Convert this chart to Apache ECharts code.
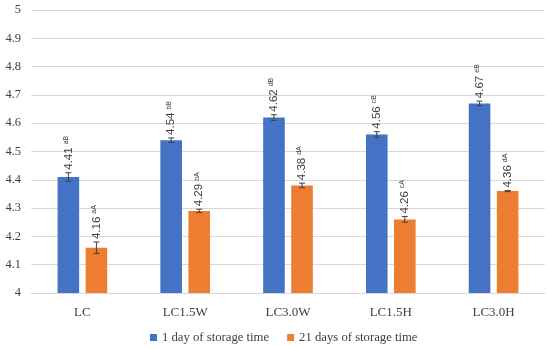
<!DOCTYPE html>
<html><head><meta charset="utf-8">
<script src="https://cdn.jsdelivr.net/npm/echarts@6/dist/echarts.min.js"></script>
<style>html,body{margin:0;padding:0;background:#fff}#c{width:550px;height:349px}</style>
</head><body><div id="c"></div>
<script>
var categories = ['LC', 'LC1.5W', 'LC3.0W', 'LC1.5H', 'LC3.0H'];
var day1 = [4.41, 4.54, 4.62, 4.56, 4.67];
var day21 = [4.16, 4.29, 4.38, 4.26, 4.36];
var day1Err = [0.015, 0.008, 0.01, 0.01, 0.008];
var day21Err = [0.02, 0.006, 0.008, 0.01, 0.002];
var day1Letters = ['aB', 'bB', 'dB', 'cB', 'eB'];
var day21Letters = ['aA', 'bA', 'dA', 'cA', 'dA'];
var seriesNames = ['1 day of storage time', '21 days of storage time'];
var colors = ['#4472C4', '#ED7D31'];

var BW = 0.21, GAP = 0.3;
var LBL_FONT = '11.5px "Liberation Sans", Arial, sans-serif';
var SUP_FONT = '7px "Liberation Sans", Arial, sans-serif';
var mctx = document.createElement('canvas').getContext('2d');
function textW(t, f) { mctx.font = f; return mctx.measureText(t).width; }

function makeCustom(vals, errs, letters, sign, name) {
  return {
    type: 'custom', name: name + ' err', silent: true, z: 5,
    data: vals.map(function (v, i) { return [i, v, errs[i]]; }),
    renderItem: function (params, api) {
      var i = api.value(0), v = api.value(1), e = api.value(2);
      var bw = api.size([1, 0])[0];
      var off = sign * (BW + BW * GAP) / 2 * bw;
      var c = api.coord([i, v]);
      var x = c[0] + off;
      var yt = api.coord([i, v + e])[1];
      var yb = api.coord([i, v - e])[1];
      var cap = 3;
      var st = { stroke: '#404040', lineWidth: 1 };
      var txt = vals[params.dataIndex].toFixed(2);
      var w = textW(txt, LBL_FONT);
      var y0 = yt - 3;
      return {
        type: 'group',
        children: [
          { type: 'line', shape: { x1: x, y1: yt, x2: x, y2: yb }, style: st },
          { type: 'line', shape: { x1: x - cap, y1: yt, x2: x + cap, y2: yt }, style: st },
          { type: 'line', shape: { x1: x - cap, y1: yb, x2: x + cap, y2: yb }, style: st },
          {
            type: 'text', x: x, y: y0, rotation: Math.PI / 2,
            style: { text: txt, font: LBL_FONT, fill: '#404040', align: 'left', verticalAlign: 'middle' }
          },
          {
            type: 'text', x: x - 2.5, y: y0 - w - 3, rotation: Math.PI / 2,
            style: { text: letters[params.dataIndex], font: SUP_FONT, fill: '#404040', align: 'left', verticalAlign: 'middle' }
          }
        ]
      };
    }
  };
}

var chart = echarts.init(document.getElementById('c'));
chart.setOption({
  animation: false,
  color: colors,
  grid: { left: 31, right: 5, top: 10, bottom: 56 },
  legend: {
    data: seriesNames, bottom: 0, left: 145, icon: 'rect', itemWidth: 7, itemHeight: 7, itemGap: 18,
    textStyle: { fontFamily: 'Liberation Serif, serif', fontSize: 12.7, color: '#404040' }
  },
  xAxis: {
    type: 'category', data: categories,
    axisTick: { show: false },
    axisLine: { lineStyle: { color: '#d9d9d9' } },
    axisLabel: { fontFamily: 'Liberation Serif, serif', fontSize: 13, color: '#404040', margin: 13 }
  },
  yAxis: {
    type: 'value', min: 4, max: 5, interval: 0.1,
    axisLine: { show: false }, axisTick: { show: false },
    splitLine: { lineStyle: { color: '#d9d9d9' } },
    axisLabel: { fontFamily: 'Liberation Serif, serif', fontSize: 12.5, color: '#404040', margin: 10,
      formatter: function (v) { return String(+v.toFixed(1)); } }
  },
  series: [
    { type: 'bar', name: seriesNames[0], data: day1, barWidth: (BW * 100) + '%', barGap: (GAP * 100) + '%' },
    { type: 'bar', name: seriesNames[1], data: day21, barWidth: (BW * 100) + '%', barGap: (GAP * 100) + '%' },
    makeCustom(day1, day1Err, day1Letters, -1, seriesNames[0]),
    makeCustom(day21, day21Err, day21Letters, 1, seriesNames[1])
  ]
});
</script></body></html>
